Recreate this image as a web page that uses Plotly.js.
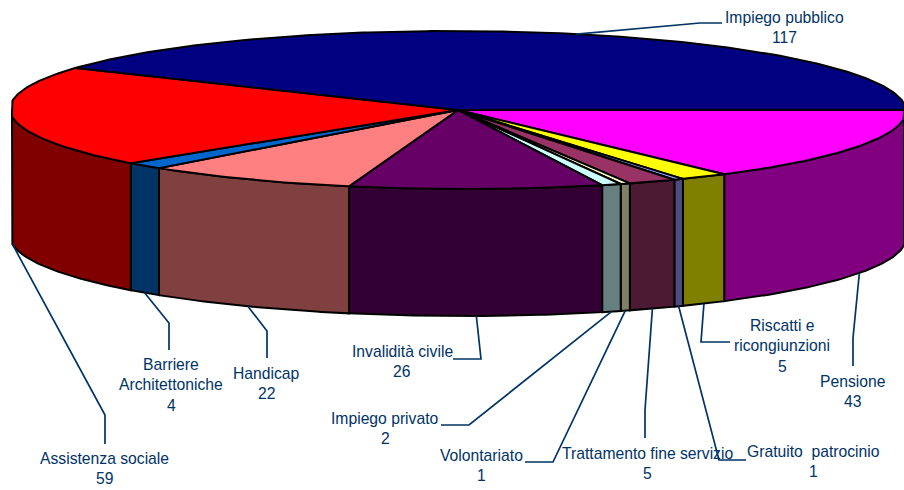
<!DOCTYPE html>
<html>
<head>
<meta charset="utf-8">
<script src="https://cdn.plot.ly/plotly-3.0.1.min.js"></script>
<style>html,body{margin:0;padding:0;background:#fff}#chart{width:904px;height:490px}</style>
</head>
<body>
<div id="chart"></div>
<script>
const categories = ["Pensione","Riscatti e ricongiunzioni","Gratuito patrocinio","Trattamento fine servizio","Volontariato","Impiego privato","Invalidità civile","Handicap","Barriere Architettoniche","Assistenza sociale","Impiego pubblico"];
const values = [43,5,1,5,1,2,26,22,4,59,117];
const topColors = ["#FF00FF","#FFFF00","#9999FF","#993366","#FFFFCC","#CCFFFF","#660066","#FF8080","#0066CC","#FF0000","#000080"];
const sideColors = ["#800080","#808000","#4D4D80","#4D1A33","#808066","#668080","#330033","#804040","#003366","#800000","#000040"];
const labelLines = [["Pensione"],["Riscatti e","ricongiunzioni"],["Gratuito  patrocinio"],["Trattamento fine servizio"],["Volontariato"],["Impiego privato"],["Invalidità civile"],["Handicap"],["Barriere","Architettoniche"],["Assistenza sociale"],["Impiego pubblico"]];

// Layout of the projected disc (pixels)
const disc = {cx:458, cy:110, rx:448, ry:79, shear:6, depth:127, minX:12, maxX:904};
// Label centre x, first-line y, elbow points of each leader
const labelX = [853,782,813,647,481,385,402,266,171,104,784];
const labelY = [381,325,451,453,455,418,351,373,364,458,17];
const elbows = [[[853,338],[853,366]],[[701,342],[730,342]],[[719,460],[746,460]],[[645,410],[645,438]],[[553,462],[525,462]],[[469,425],[441,425]],[[481,359],[453,359]],[[267,331],[267,358]],[[169,323],[169,350]],[[105,415],[105,444]],[[700,23],[722,23]]];
const lineGap = 20.5;
const ink = "#003366";

const total = values.reduce((a,b)=>a+b,0);
const rad = d => d*Math.PI/180;
function px(t){return Math.min(disc.maxX,Math.max(disc.minX,disc.cx+disc.rx*Math.cos(rad(t))-disc.shear*Math.sin(rad(t))));}
function py(t){return disc.cy-disc.ry*Math.sin(rad(t));}
function arc(a,b){const n=Math.max(2,Math.ceil(Math.abs(b-a)/0.75));const o=[];for(let i=0;i<=n;i++)o.push(a+(b-a)*i/n);return o;}

const traces=[];const tops=[];const leaders=[];const annotations=[];
let cum=0;
values.forEach((v,i)=>{
  const a=-cum/total*360, b=-(cum+v)/total*360; cum+=v;
  // side wall: only the front half (t between -180 and 0)
  const s0=a, s1=Math.max(b,-180);
  if(s1<s0){
    const ts=arc(s0,s1);
    const xs=ts.map(px), ys=ts.map(py);
    const tr=ts.slice().reverse();
    const x=xs.concat(tr.map(px),[xs[0]]);
    const y=ys.concat(tr.map(t=>py(t)+disc.depth),[ys[0]]);
    traces.push({type:"scatter",mode:"lines",x,y,fill:"toself",fillcolor:sideColors[i],line:{color:"#000",width:2},hoverinfo:"text",text:categories[i]+": "+v,showlegend:false});
  }
  // top slice
  const ts=arc(a,b);
  const x=[disc.cx].concat(ts.map(px),[disc.cx]);
  const y=[disc.cy].concat(ts.map(py),[disc.cy]);
  tops.push({type:"scatter",mode:"lines",x,y,fill:"toself",fillcolor:topColors[i],line:{color:"#000",width:2},hoverinfo:"text",text:categories[i]+": "+v,showlegend:false});
  // leader from mid-angle of the slice's outer edge
  const m=(a+b)/2; const mNorm=((m%360)+360)%360;
  const front=mNorm>180;
  const lx=[px(m)].concat(elbows[i].map(p=>p[0]));
  const ly=[py(m)+(front?disc.depth:0)].concat(elbows[i].map(p=>p[1]));
  leaders.push({type:"scatter",mode:"lines",x:lx,y:ly,line:{color:ink,width:1.7},hoverinfo:"skip",showlegend:false});
  // text
  labelLines[i].concat([String(v)]).forEach((t,k)=>{
    annotations.push({x:labelX[i],y:labelY[i]+k*lineGap,xref:"x",yref:"y",text:t,showarrow:false,xanchor:"center",yanchor:"middle",font:{family:"Liberation Sans, Arial, sans-serif",size:15.7,color:ink}});
  });
});

Plotly.newPlot("chart",traces.concat(tops,leaders),{
  width:904,height:490,margin:{l:0,r:0,t:0,b:0},
  paper_bgcolor:"#fff",plot_bgcolor:"#fff",showlegend:false,
  xaxis:{range:[0,904],visible:false,fixedrange:true},
  yaxis:{range:[490,0],visible:false,fixedrange:true},
  annotations
},{displayModeBar:false,staticPlot:true});
</script>
</body>
</html>
